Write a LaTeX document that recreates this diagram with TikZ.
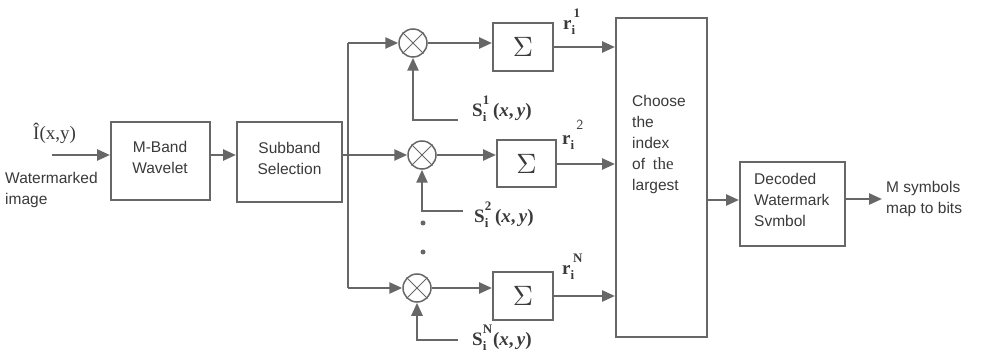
\documentclass[tikz,border=0pt]{standalone}
\usepackage{fontspec}
\setmainfont{Liberation Sans}
\newfontfamily\seriffam{Liberation Serif}
\usetikzlibrary{arrows.meta}
\definecolor{lncol}{HTML}{676767}
\definecolor{txtcol}{HTML}{3a3a3a}
\newcommand\supsub[2]{\rlap{\raisebox{0.6em}{\fontsize{13}{13}\selectfont #1}}\raisebox{-0.3em}{\fontsize{13}{13}\selectfont #2}}
\begin{document}
\begin{tikzpicture}[x=1pt,y=-1pt,
  box/.style={draw=lncol, line width=2pt, rectangle, inner sep=0pt, fill=white},
  sumbox/.style={box, text=txtcol},
  arr/.style={draw=lncol, line width=2.5pt, -{Triangle[length=13pt,width=11pt]}},
  wire/.style={draw=lncol, line width=2.5pt},
  mult/.style={draw=lncol, line width=1.5pt, circle, minimum size=28pt, inner sep=0pt},
  lbl/.style={font=\fontsize{15.5}{21}\selectfont, text=txtcol, align=left, inner sep=0pt},
  mlab/.style={font=\seriffam\bfseries\fontsize{19}{19}\selectfont, text=txtcol, inner sep=0pt},
  dotm/.style={fill=lncol, circle, inner sep=0pt, minimum size=5pt}
]
\useasboundingbox (0,0) rectangle (982,363);

% blocks
\node[box, minimum width=99pt, minimum height=78pt] (mband) at (160.5,161) {};
\node[lbl, align=center] at (160,157) {M-Band\\Wavelet};
\node[box, minimum width=105pt, minimum height=80pt] (subband) at (289.5,162) {};
\node[lbl, align=center] at (289.5,158) {Subband\\Selection};

\node[mult] (m1) at (413,43) {};
\node[mult] (m2) at (422,155) {};
\node[mult] (m3) at (417,288) {};
\foreach \m in {m1,m2,m3}{
  \draw[lncol, line width=1pt] (\m.45) -- (\m.225) (\m.135) -- (\m.315);
}

\node[sumbox, minimum width=60pt, minimum height=48pt] (s1) at (523,47) {\scalebox{2.8}{$\Sigma$}};
\node[sumbox, minimum width=59pt, minimum height=47pt] (s2) at (526.5,164) {\scalebox{2.8}{$\Sigma$}};
\node[sumbox, minimum width=60pt, minimum height=47pt] (s3) at (523,296) {\scalebox{2.8}{$\Sigma$}};

\node[box, minimum width=91pt, minimum height=319pt] (big) at (661.5,177.5) {};
\node[lbl, anchor=west] (bigtxt) at (632,144) {Choose\\the\\index\\of\enspace{\seriffam\fontsize{17}{21}\selectfont the}\\largest};

\node[box, minimum width=105pt, minimum height=84pt] (dec) at (792.5,204) {};
\node[lbl, anchor=west] (dectxt) at (754,200) {Decoded\\Watermark\\Svmbol};

% input
\coordinate (in) at (52,155);
\node[font=\seriffam\fontsize{19}{19}\selectfont, text=txtcol, anchor=south west, inner sep=0pt] (inlab) at (33,144) {Î(x,y)};
\node[lbl, anchor=north west] (wm) at (5,172) {Watermarked\\image};
\draw[arr] (in) -- (in -| mband.west);
\draw[arr] (in -| mband.east) -- (in -| subband.west);

% split
\coordinate (split) at (348,155);
\draw[wire] (in -| subband.east) -- (split);
\draw[wire] (split |- m1) -- (split |- m3);
\draw[arr] (split |- m1) -- (m1.west);
\draw[arr] (split) -- (m2.west);
\draw[arr] (split |- m3) -- (m3.west);

% multipliers to sums
\draw[arr] (m1.east) -- (m1 -| s1.west);
\draw[arr] (m2.east) -- (m2 -| s2.west);
\draw[arr] (m3.east) -- (m3 -| s3.west);

% sums to big box
\draw[arr] (s1.east) -- (s1 -| big.west);
\draw[arr] (s2.east) -- (s2 -| big.west);
\draw[arr] (s3.east) -- (s3 -| big.west);

% signature inputs
\coordinate (c1) at (458,120);
\coordinate (c2) at (463,211);
\coordinate (c3) at (458,340);
\draw[arr] (c1) -| (m1.south);
\draw[arr] (c2) -| (m2.south);
\draw[arr] (c3) -| (m3.south);
\node[mlab, anchor=west] (l1) at (472,109) {S\supsub{1}{i}\hspace{0.35em}(\textit{x},\,\textit{y})};
\node[mlab, anchor=west] (l2) at (474,215) {S\supsub{2}{i}\hspace{0.35em}(\textit{x},\,\textit{y})};
\node[mlab, anchor=west] (l3) at (472,338) {S\supsub{N}{i}\hspace{0.35em}(\textit{x},\,\textit{y})};

% r labels
\node[mlab, anchor=west] (r1) at (563,22) {r\supsub{\hspace{0.15em}1}{i}};
\node[mlab, anchor=west] (r2) at (562,135) {r\rlap{\raisebox{0.75em}{\hspace{0.3em}\fontsize{14}{14}\selectfont\mdseries\sffamily 2}}\raisebox{-0.3em}{\fontsize{13}{13}\selectfont i}};
\node[mlab, anchor=west] (r3) at (562,267) {r\supsub{\hspace{0.2em}N}{i}};

% dots
\node[dotm] (d1) at (423,223) {};
\node[dotm] (d2) at (423,252) {};

% output
\coordinate (jn) at (720,200);
\draw[arr] (jn -| big.east) -- (jn -| dec.west);
\coordinate (out) at (882,199);
\draw[arr] (dec.east |- out) -- (out);
\node[lbl, anchor=west] (outtxt) at (886,199) {M symbols\\map to bits};
\end{tikzpicture}
\end{document}
